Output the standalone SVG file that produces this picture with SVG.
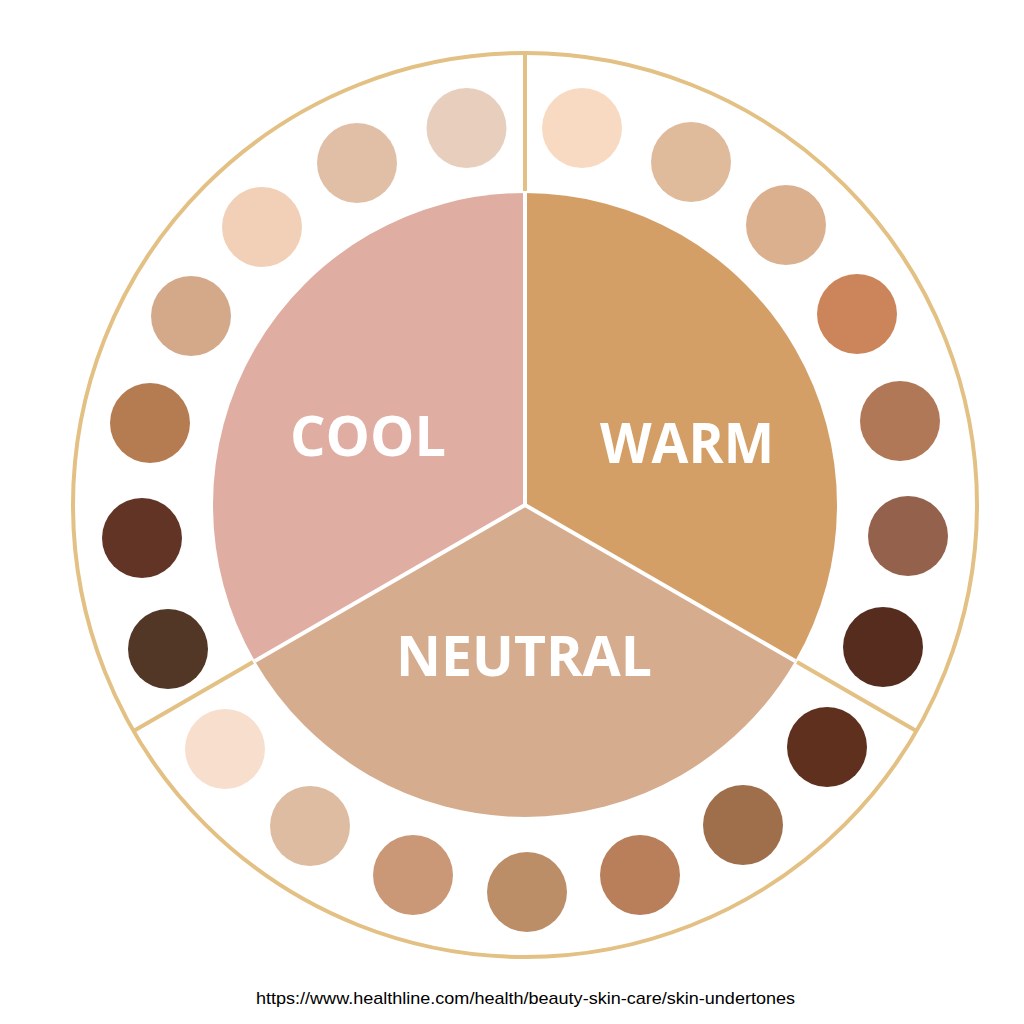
<svg xmlns="http://www.w3.org/2000/svg" width="1024" height="1024" viewBox="0 0 1024 1024">
<style>
.ring{fill:none;stroke:#E3C083;stroke-width:4}
.div{stroke:#E3C083;stroke-width:4;fill:none}
.sep{stroke:#FFFFFF;stroke-width:4;fill:none}
.lbl{font-family:"Open Sans","Liberation Sans",sans-serif;font-weight:700;font-size:55px;fill:#FFFFFF}
.cap{font-family:"Liberation Sans",Arial,sans-serif;font-size:17px;fill:#000000}
</style>
<rect width="1024" height="1024" fill="#FFFFFF"/>
<circle class="ring" cx="525" cy="505" r="452"/>
<g id="cool">
<path d="M525,505 L525,193 A312,312 0 0 0 254.8,661 Z" fill="#DFADA1"/>
<text class="lbl" x="290" y="456" textLength="156" lengthAdjust="spacingAndGlyphs">COOL</text>
</g>
<g id="warm">
<path d="M525,505 L525,193 A312,312 0 0 1 795.2,661 Z" fill="#D49F66"/>
<text class="lbl" x="600" y="463" textLength="174" lengthAdjust="spacingAndGlyphs">WARM</text>
</g>
<g id="neutral">
<path d="M525,505 L254.8,661 A312,312 0 0 0 795.2,661 Z" fill="#D6AC8E"/>
<text class="lbl" x="396" y="676" textLength="256" lengthAdjust="spacingAndGlyphs">NEUTRAL</text>
</g>
<g id="connectors">
<line class="sep" x1="525" y1="505" x2="525" y2="193"/>
<line class="sep" x1="525" y1="505" x2="254.8" y2="661"/>
<line class="sep" x1="525" y1="505" x2="795.2" y2="661"/>
<line class="div" x1="525" y1="53" x2="525" y2="191"/>
<line class="div" x1="253" y1="662" x2="133.6" y2="731"/>
<line class="div" x1="797" y1="662" x2="916.4" y2="731"/>
</g>
<g id="cool-swatches">
<circle cx="466.5" cy="128" r="40" fill="#E8CEBD"/>
<circle cx="357" cy="163" r="40" fill="#E0BFA6"/>
<circle cx="262" cy="227" r="40" fill="#F2D0B7"/>
<circle cx="191" cy="316" r="40" fill="#D4A98A"/>
<circle cx="150" cy="423" r="40" fill="#B57C52"/>
<circle cx="142" cy="538" r="40" fill="#623426"/>
<circle cx="168" cy="649" r="40" fill="#523726"/>
</g>
<g id="warm-swatches">
<circle cx="582" cy="128" r="40" fill="#F8DAC2"/>
<circle cx="691" cy="162" r="40" fill="#DFBB9B"/>
<circle cx="786" cy="225" r="40" fill="#DBB08F"/>
<circle cx="857" cy="314" r="40" fill="#CC855A"/>
<circle cx="900" cy="421" r="40" fill="#B07857"/>
<circle cx="908" cy="536" r="40" fill="#94624C"/>
<circle cx="883" cy="647" r="40" fill="#562C1F"/>
</g>
<g id="neutral-swatches">
<circle cx="225" cy="749" r="40" fill="#F7DECD"/>
<circle cx="310" cy="826" r="40" fill="#DDBCA1"/>
<circle cx="413" cy="875" r="40" fill="#CA9877"/>
<circle cx="527" cy="892" r="40" fill="#BC8E67"/>
<circle cx="640" cy="875" r="40" fill="#B97E5A"/>
<circle cx="743" cy="825" r="40" fill="#9F6E4B"/>
<circle cx="827" cy="747" r="40" fill="#5F301E"/>
</g>
<text id="source" class="cap" x="256" y="1004" textLength="539" lengthAdjust="spacingAndGlyphs">https://www.healthline.com/health/beauty-skin-care/skin-undertones</text>
</svg>
